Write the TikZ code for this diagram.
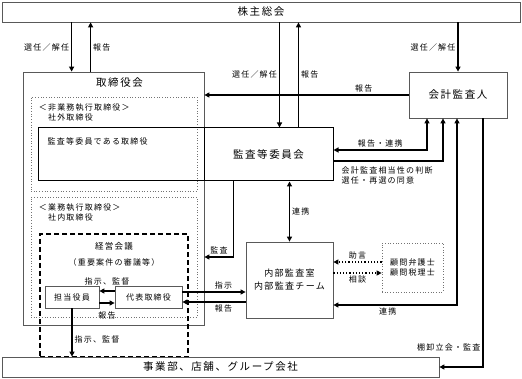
\documentclass[tikz,border=0pt]{standalone}
\usepackage{fontspec}
\setmainfont{Noto Sans CJK JP}[LetterSpace=15]
\usetikzlibrary{positioning, arrows.meta, calc}

\newcommand{\lblsize}{\fontsize{8}{10}\selectfont}
\newcommand{\ttlsize}{\fontsize{10.5}{12}\selectfont}

\begin{document}
\begin{tikzpicture}[
    x=1pt, y=-1pt,
    box/.style={draw=black!65, line width=0.8pt, inner sep=0pt},
    kbox/.style={draw=black, line width=1pt, inner sep=0pt},
    dotbox/.style={draw=black!55, dotted, line width=0.7pt, inner sep=0pt},
    dashbox/.style={draw=black, dash pattern=on 5pt off 3pt, line width=1.3pt, inner sep=0pt},
    arr/.style={-{Triangle[length=5pt, width=5pt]}, line width=1.2pt},
    darr/.style={{Triangle[length=5pt, width=5pt]}-{Triangle[length=5pt, width=5pt]}, line width=1.2pt},
    dotarr/.style={arr, dotted},
    lbl/.style={font=\lblsize, inner sep=2pt},
    ttl/.style={font=\ttlsize}
]
\useasboundingbox (0,0) rectangle (522,379);

% 株主総会
\node[box, ttl, minimum width=518pt, minimum height=20pt] (kabu) at (261,12) {株主総会};

% 取締役会
\node[box, minimum width=181pt, minimum height=253pt] (tori) at (113.5,198.5) {};
\node[ttl, below=3pt of tori.north, xshift=6pt] (toriT) {取締役会};

% 非業務執行 / 業務執行
\node[dotbox, minimum width=166pt, minimum height=94pt] (hishikko) at (114,144) {};
\node[lbl, align=left, anchor=north west] (hishikkoT) at ([xshift=6pt, yshift=-5pt]hishikko.north west) {＜非業務執行取締役＞\\　社外取締役};
\node[dotbox, minimum width=166pt, minimum height=120pt] (shikko) at (114,257) {};
\node[lbl, align=left, anchor=north west] (shikkoT) at ([xshift=6pt, yshift=-5pt]shikko.north west) {＜業務執行取締役＞\\　社内取締役};

% 監査等委員会
\node[kbox, minimum width=166pt, minimum height=53pt] (kiTori) at (121,154.5) {};
\node[lbl, anchor=north west] (kiToriT) at ([xshift=8pt, yshift=-8pt]kiTori.north west) {監査等委員である取締役};
\node[kbox, ttl, minimum width=129pt, minimum height=53pt] (iinkai) at (268.5,154.5) {監査等委員会};

% 会計監査人
\node[box, ttl, minimum width=98pt, minimum height=46pt] (kaikei) at (458,95) {会計監査人};

% 経営会議
\node[dashbox, minimum width=148pt, minimum height=123pt] (keiei) at (114,295.5) {};
\node[font=\fontsize{8.5}{10}\selectfont, below=5pt of keiei.north] (keieiT) {経営会議};
\node[lbl, below=3pt of keieiT] (keieiS) {（重要案件の審議等）};
\node[box, lbl, minimum width=54pt, minimum height=22pt] (tanto) at (72,297) {担当役員};
\node[box, lbl, minimum width=67pt, minimum height=22pt] (daihyo) at (148.5,297) {代表取締役};

% 内部監査室
\node[box, align=center, font=\fontsize{9}{13}\selectfont, minimum width=87pt, minimum height=76pt] (naibu) at (289.5,280) {内部監査室\\内部監査チーム};

% 顧問
\node[dotbox, lbl, align=center, minimum width=61pt, minimum height=49pt] (komon) at (412.5,267.5) {顧問弁護士\\顧問税理士};

% 事業部
\node[box, ttl, minimum width=437pt, minimum height=20pt] (jigyo) at (220.5,367) {事業部、店舗、グループ会社};

% connection points
\coordinate (toriSel) at ([xshift=49pt]tori.north west);
\coordinate (toriRep) at ([xshift=68pt]tori.north west);
\coordinate (iinSel) at ([xshift=76pt]iinkai.north west);
\coordinate (iinRep) at ([xshift=95pt]iinkai.north west);
\coordinate (iinA) at ([yshift=4.5pt]iinkai.east);
\coordinate (iinB) at ([yshift=-6.5pt]iinkai.east);
\coordinate (iinD) at ([xshift=30pt]iinkai.south west);
\coordinate (toriD) at ([yshift=-58.5pt]tori.east);
\coordinate (kaiA) at ([xshift=-31pt]kaikei.south);
\coordinate (kaiB) at ([xshift=-15pt]kaikei.south);
\coordinate (kaiC) at ([xshift=-1pt]kaikei.south);
\coordinate (kaiD) at ([xshift=25pt]kaikei.south);
\coordinate (naiC) at ([yshift=-25pt]naibu.east);
\coordinate (daiE1) at ([yshift=5pt]daihyo.east);
\coordinate (daiE2) at ([yshift=-5pt]daihyo.east);
\coordinate (daiW1) at ([yshift=6pt]daihyo.west);
\coordinate (daiW2) at ([yshift=-6pt]daihyo.west);
\coordinate (komW1) at ([yshift=5.5pt]komon.west);
\coordinate (komW2) at ([yshift=-5.5pt]komon.west);

% 株主総会 arrows
\draw[arr] (kabu.south -| toriSel) -- node[lbl, left] {選任／解任} (toriSel);
\draw[arr] (toriRep) -- node[lbl, right] {報告} (kabu.south -| toriRep);
\draw[arr] (kabu.south -| iinSel) -- node[lbl, left] {選任／解任} (iinSel);
\draw[arr] (iinRep) -- node[lbl, right] {報告} (kabu.south -| iinRep);
\draw[arr] (kabu.south -| kaikei.north) -- node[lbl, left] {選任／解任} (kaikei.north);

% 会計監査人 arrows
\draw[arr] (kaikei.west) -- node[lbl, above, pos=0.22] {報告} (kaikei.west -| tori.east);
\draw[darr] (iinA) -| node[lbl, above, pos=0.25] {報告・連携} (kaiA);
\draw[arr] (iinB) -| (kaiB);
\node[lbl, align=left, anchor=north west] (iinBT) at ([xshift=6pt, yshift=-4pt]iinB) {会計監査相当性の判断\\選任・再選の同意};
\draw[darr] (naiC) -| node[lbl, below, pos=0.22] {連携} (kaiC);
\draw[arr] (kaiD) |- node[lbl, left, pos=0.46] {棚卸立会・監査} (jigyo.east);

% 監査等委員会 arrows
\draw[darr] (naibu.north |- iinkai.south) -- node[lbl, right] {連携} (naibu.north);
\draw[arr] (iinD) |- node[lbl, above, pos=0.75] {監査} (toriD);

% 内部監査室 arrows
\draw[arr] (daiE1) -- node[lbl, above, pos=0.65] {指示} (naibu.west |- daiE1);
\draw[arr] (naibu.west |- daiE2) -- node[lbl, below, pos=0.35] {報告} (daiE2);
\draw[dotarr] (komW1) -- node[lbl, above] {助言} (naibu.east |- komW1);
\draw[dotarr] (naibu.east |- komW2) -- node[lbl, below] {相談} (komW2);

% 経営会議 arrows
\draw[arr] (daiW1) -- node[lbl, above=3pt] {指示、監督} (tanto.east |- daiW1);
\draw[arr] (tanto.east |- daiW2) -- node[lbl, below=6pt] {報告} (daiW2);
\draw[arr] (tanto.south) -- node[lbl, right, pos=0.65] {指示、監督} (jigyo.north -| tanto.south);

\end{tikzpicture}
\end{document}
